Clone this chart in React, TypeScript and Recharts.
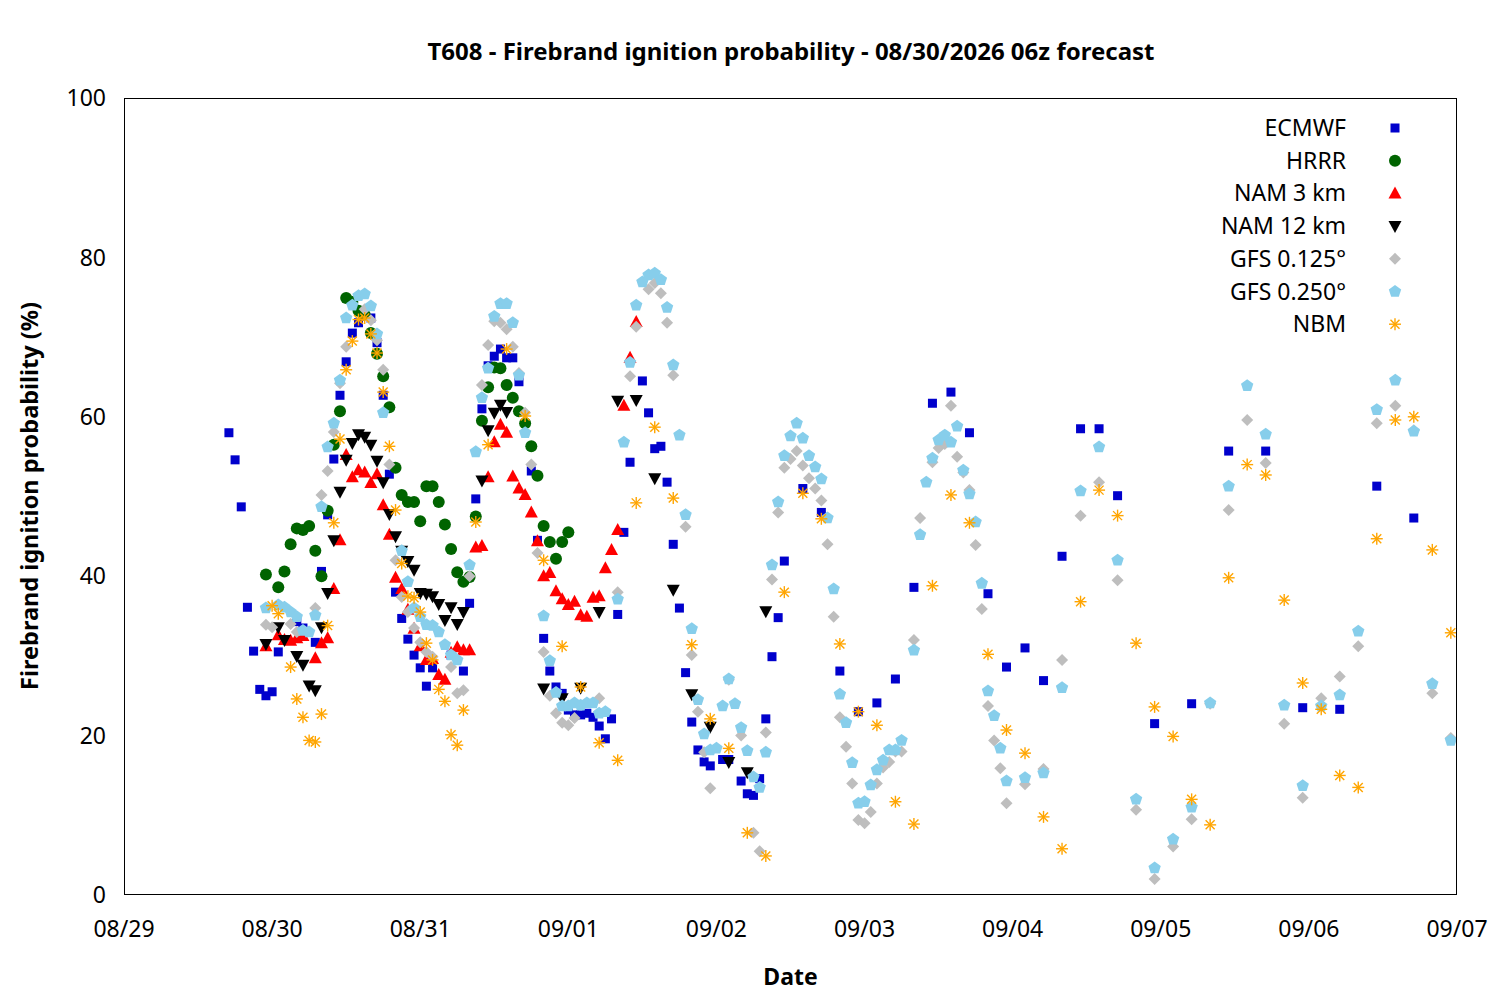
import React from 'react';
import { ScatterChart, Scatter, XAxis, YAxis } from 'recharts';

// hours since 08/29 00z, value in %
const xTickLabels = ['08/29', '08/30', '08/31', '09/01', '09/02', '09/03', '09/04', '09/05', '09/06', '09/07'];
const xTicks = [0, 24, 48, 72, 96, 120, 144, 168, 192, 216];
const yTicks = [0, 20, 40, 60, 80, 100];

const ecmwf = [[17,58],[18,54.6],[19,48.7],[20,36.1],[21,30.6],[22,25.8],[23,25],[24,25.5],[25,30.5],[28,34.3],[29,33.5],[31,31.7],[32,40.6],[33,47.7],[34,54.7],[35,62.7],[36,66.9],[37,70.5],[38,71.8],[40,72.4],[41,69.3],[42,62.7],[43,52.8],[44,38],[45,34.7],[46,32.1],[47,30.1],[48,28.5],[49,26.2],[50,28.5],[53,30.1],[55,28.1],[56,36.6],[57,49.7],[58,61],[59,66.4],[60,67.6],[61,68.5],[62,67.4],[63,67.4],[64,64.4],[66,53.2],[67,44.5],[68,32.2],[69,28.1],[70,26.1],[71,25.3],[72,23.2],[73,22.6],[74,22.6],[75,22.8],[76,22.3],[77,21.2],[78,19.6],[79,22.1],[80,35.2],[81,45.5],[82,54.3],[84,64.5],[85,60.5],[86,56],[87,56.3],[88,51.8],[89,44],[90,36],[91,27.9],[92,21.7],[93,18.2],[94,16.7],[95,16.2],[97,17],[98,17],[100,14.3],[101,12.7],[102,12.5],[103,14.6],[104,22.1],[105,29.9],[106,34.8],[107,41.9],[110,51],[113,48],[116,28.1],[119,23],[122,24.1],[125,27.1],[128,38.6],[131,61.7],[134,63.1],[137,58],[140,37.8],[143,28.6],[146,31],[149,26.9],[152,42.5],[155,58.5],[158,58.5],[161,50.1],[167,21.5],[173,24],[179,55.7],[185,55.7],[191,23.5],[197,23.3],[203,51.3],[209,47.3]];

const hrrr = [[23,40.2],[25,38.6],[26,40.6],[27,44],[28,46],[29,45.8],[30,46.3],[31,43.2],[32,40],[33,48.2],[34,56.5],[35,60.7],[36,74.9],[37,74.4],[38,73.3],[39,72.8],[40,70.5],[41,67.9],[42,65.1],[43,61.2],[44,53.6],[45,50.2],[46,49.3],[47,49.3],[48,46.9],[49,51.3],[50,51.3],[51,49.3],[52,46.5],[53,43.4],[54,40.5],[55,39.3],[56,39.9],[57,47.5],[58,59.5],[59,63.7],[60,66.2],[61,66.1],[62,64],[63,62.4],[64,60.7],[65,59.2],[66,56.3],[67,52.6],[68,46.3],[69,44.3],[70,42.2],[71,44.3],[72,45.5]];

const nam3 = [[23,31.2],[25,32.6],[26,32],[27,31.9],[28,32.2],[29,32.5],[31,29.7],[32,31.6],[33,32.2],[34,38.4],[35,44.5],[36,55.2],[37,52.4],[38,53.3],[39,53],[40,51.7],[41,52.8],[42,48.9],[43,45.2],[44,39.8],[45,38.4],[46,35.8],[47,33.4],[48,31.2],[49,29.5],[50,29.6],[51,27.6],[52,27],[53,30.4],[54,31.1],[55,30.7],[56,30.7],[57,43.6],[58,43.8],[59,52.4],[60,56.8],[61,59],[62,58],[63,52.5],[64,51],[65,50.2],[66,48],[67,44.4],[68,40],[69,40.4],[70,38.1],[71,37.1],[72,36.4],[73,36.8],[74,35.1],[75,34.9],[76,37.3],[77,37.5],[78,41],[79,43.3],[80,45.8],[81,61.4],[82,67.4],[83,71.9]];

const nam12 = [[23,31.5],[25,33.6],[26,32],[28,30],[29,28.9],[30,26.3],[31,25.7],[32,33.6],[33,37.9],[34,44.5],[35,50.6],[36,54.6],[37,56.7],[38,57.8],[39,57.5],[40,56.5],[41,54.5],[42,51.8],[43,47.8],[44,45],[45,43.2],[46,41.9],[47,40.8],[48,37.9],[49,37.8],[50,37.5],[51,36.5],[52,34.5],[53,36.1],[54,34],[55,35.5],[58,52],[59,58.3],[60,60.5],[61,61.5],[62,60.6],[68,25.9],[71,24.7],[74,26],[77,35.5],[80,62],[83,62.1],[86,52.3],[89,38.3],[92,25.2],[95,21.1],[98,16.7],[101,15.4],[104,35.6]];

const gfs125 = [[23,33.9],[24,33.6],[27,34],[28,33],[31,36],[32,50.2],[33,53.2],[34,58.1],[35,64.2],[36,68.8],[39,73.5],[40,72.1],[41,69.6],[42,65.9],[43,54],[44,42],[45,37.4],[46,35.5],[47,33.5],[48,31.7],[49,30.5],[50,29.9],[53,28.6],[54,25.3],[55,25.7],[56,40],[58,64],[59,69],[60,72],[61,71.8],[62,71],[63,68.8],[64,65.5],[65,60.5],[66,54],[67,42.9],[68,30.5],[69,25],[70,22.8],[71,21.6],[72,21.3],[73,22.2],[77,24.7],[80,38],[82,65.1],[83,71.3],[85,76],[86,76.8],[87,75.5],[88,71.8],[89,65.2],[91,46.2],[92,30.1],[93,23],[94,17.9],[95,13.4],[98,27],[100,20],[102,7.8],[103,5.5],[104,20.4],[105,39.6],[106,48],[107,53.6],[108,54.7],[109,55.7],[110,53.9],[111,52.3],[112,51],[113,49.5],[114,44],[115,34.9],[116,22.3],[117,18.6],[118,14],[119,9.4],[120,9],[121,10.4],[122,14],[123,16],[124,16.7],[125,18],[126,18],[128,32],[129,47.3],[131,54.3],[132,56.1],[133,56.6],[134,61.4],[135,55],[136,53],[137,50.8],[138,43.9],[139,35.9],[140,23.7],[141,19.4],[142,15.9],[143,11.5],[146,13.9],[149,15.8],[152,29.5],[155,47.6],[158,51.8],[161,39.5],[164,10.7],[167,2],[170,6.1],[173,9.5],[176,24],[179,48.3],[182,59.6],[185,54.2],[188,21.5],[191,12.2],[194,24.7],[197,27.4],[200,31.2],[203,59.2],[206,61.4],[209,58.3],[212,25.3],[215,19.7]];

const gfs250 = [[23,36],[25,36.4],[26,36.1],[27,35.5],[28,34.9],[29,33.2],[30,33],[31,35.1],[32,48.7],[33,56.2],[34,59.2],[35,64.6],[36,72.4],[37,74],[38,75.2],[39,75.4],[40,73.9],[41,70.4],[42,60.5],[45,43.2],[46,39.3],[47,36],[48,34.9],[49,33.9],[50,33.8],[51,33],[52,31.4],[53,30.1],[54,29.5],[56,41.4],[57,55.6],[58,62.4],[59,66.1],[60,72.6],[61,74.2],[62,74.2],[63,71.8],[64,65.2],[65,58],[68,35],[69,29.4],[70,25.4],[71,23.7],[72,23.7],[73,24.1],[74,23.8],[75,24.1],[76,24.1],[77,22.8],[78,23],[80,37.1],[81,56.8],[82,66.8],[83,74],[84,76.9],[85,77.8],[86,78],[87,77.2],[88,73.7],[89,66.5],[90,57.7],[91,47.7],[92,33.4],[93,24.5],[94,20.2],[95,18.2],[96,18.4],[97,23.7],[98,27.1],[99,24],[100,21],[101,18.1],[102,14.8],[103,13.5],[104,17.9],[105,41.4],[106,49.3],[107,55.1],[108,57.6],[109,59.2],[110,57.3],[111,55.1],[112,53.7],[113,52.2],[114,47.3],[115,38.4],[116,25.2],[117,21.6],[118,16.6],[119,11.5],[120,11.7],[121,13.8],[122,15.7],[123,16.9],[124,18.2],[125,18.2],[126,19.4],[128,30.7],[129,45.2],[130,51.8],[131,54.8],[132,57.1],[133,57.7],[134,56.8],[135,58.8],[136,53.3],[137,50.3],[138,46.8],[139,39.1],[140,25.6],[141,22.5],[142,18.4],[143,14.3],[146,14.7],[149,15.3],[152,26],[155,50.7],[158,56.2],[161,42],[164,12],[167,3.4],[170,7],[173,11],[176,24.1],[179,51.3],[182,63.9],[185,57.8],[188,23.8],[191,13.7],[194,23.7],[197,25.1],[200,33.1],[203,60.9],[206,64.6],[209,58.2],[212,26.5],[215,19.4]];

const nbm = [[24,36.3],[25,35.3],[27,28.6],[28,24.6],[29,22.3],[30,19.4],[31,19.2],[32,22.7],[33,33.8],[34,46.7],[35,57.2],[36,65.9],[37,69.5],[38,72.2],[39,72.4],[40,70.4],[41,68],[42,63.1],[43,56.3],[44,48.3],[45,41.6],[46,37.5],[47,37.3],[48,35.5],[49,31.6],[50,29.5],[51,25.8],[52,24.3],[53,20.1],[54,18.8],[55,23.2],[57,46.8],[59,56.5],[62,68.5],[65,60.1],[68,42],[71,31.2],[74,26.1],[77,19.1],[80,16.9],[83,49.2],[86,58.7],[89,49.8],[92,31.4],[95,22.1],[98,18.4],[101,7.8],[104,4.9],[107,38],[110,50.4],[113,47.2],[116,31.5],[119,23],[122,21.3],[125,11.7],[128,8.9],[131,38.8],[134,50.2],[137,46.7],[140,30.2],[143,20.7],[146,17.8],[149,9.8],[152,5.8],[155,36.8],[158,50.8],[161,47.6],[164,31.6],[167,23.6],[170,19.9],[173,12],[176,8.8],[179,39.8],[182,54],[185,52.7],[188,37],[191,26.6],[194,23.3],[197,15],[200,13.5],[203,44.7],[206,59.6],[209,60],[212,43.3],[215,32.9]];

const toPts = (arr: number[][]) => arr.map(([h, v]) => ({ h, v }));

const FONT = '"Noto Sans", sans-serif';

const Square = (c: string) => (p: any) => <rect x={p.cx - 4.5} y={p.cy - 4.5} width={9} height={9} fill={c} />;
const Circle = (c: string) => (p: any) => <circle cx={p.cx} cy={p.cy} r={6} fill={c} />;
const TriUp = (c: string) => (p: any) => <polygon points={`${p.cx},${p.cy - 7} ${p.cx - 6.5},${p.cy + 5} ${p.cx + 6.5},${p.cy + 5}`} fill={c} />;
const TriDown = (c: string) => (p: any) => <polygon points={`${p.cx},${p.cy + 7} ${p.cx - 6.5},${p.cy - 5} ${p.cx + 6.5},${p.cy - 5}`} fill={c} />;
const Diamond = (c: string) => (p: any) => <polygon points={`${p.cx},${p.cy - 6} ${p.cx + 6},${p.cy} ${p.cx},${p.cy + 6} ${p.cx - 6},${p.cy}`} fill={c} />;
const Pentagon = (c: string) => (p: any) => {
  const pts = [0, 1, 2, 3, 4].map(i => {
    const a = -Math.PI / 2 + (i * 2 * Math.PI) / 5;
    return `${p.cx + 6.5 * Math.cos(a)},${p.cy + 6.5 * Math.sin(a)}`;
  }).join(' ');
  return <polygon points={pts} fill={c} />;
};
const Star = (c: string) => (p: any) => (
  <g stroke={c} strokeWidth={1.4}>
    <line x1={p.cx - 6} y1={p.cy} x2={p.cx + 6} y2={p.cy} />
    <line x1={p.cx} y1={p.cy - 6} x2={p.cx} y2={p.cy + 6} />
    <line x1={p.cx - 4.5} y1={p.cy - 4.5} x2={p.cx + 4.5} y2={p.cy + 4.5} />
    <line x1={p.cx - 4.5} y1={p.cy + 4.5} x2={p.cx + 4.5} y2={p.cy - 4.5} />
  </g>
);

const series = [
  { name: 'ECMWF', data: ecmwf, shape: Square('#0000cc') },
  { name: 'HRRR', data: hrrr, shape: Circle('#006400') },
  { name: 'NAM 3 km', data: nam3, shape: TriUp('#ff0000') },
  { name: 'NAM 12 km', data: nam12, shape: TriDown('#000000') },
  { name: 'GFS 0.125°', data: gfs125, shape: Diamond('#bebebe') },
  { name: 'GFS 0.250°', data: gfs250, shape: Pentagon('#87ceeb') },
  { name: 'NBM', data: nbm, shape: Star('#ffa500') },
];

export default function App() {
  return (
    <div style={{ position: 'absolute', left: 0, top: 0, width: 1500, height: 1000, background: '#fff', fontFamily: FONT }}>
      <ScatterChart width={1500} height={1000} margin={{ top: 98, right: 43, bottom: 60, left: 64 }}>
        <XAxis type="number" dataKey="h" domain={[0, 216]} ticks={xTicks} height={45}
          tickFormatter={(v) => xTickLabels[xTicks.indexOf(v)]} tickLine={false} axisLine={false}
          tick={{ fontSize: 23, fill: '#000', fontFamily: FONT }} tickMargin={20} allowDataOverflow />
        <YAxis type="number" dataKey="v" domain={[0, 100]} ticks={yTicks} width={60}
          tickLine={false} axisLine={false} tick={{ fontSize: 23, fill: '#000', fontFamily: FONT }} tickMargin={12} />
        {series.map(s => (
          <Scatter key={s.name} name={s.name} data={toPts(s.data)} shape={s.shape} isAnimationActive={false} />
        ))}
      </ScatterChart>
      <div style={{ position: 'absolute', left: 124, top: 98, width: 1333, height: 797, border: '1px solid #000', boxSizing: 'border-box', pointerEvents: 'none' }} />
      <div style={{ position: 'absolute', left: 0, width: 1582, top: 34, textAlign: 'center', fontSize: 24, fontWeight: 'bold' }}>
        T608 - Firebrand ignition probability - 08/30/2026 06z forecast
      </div>
      <div style={{ position: 'absolute', left: 124, width: 1333, top: 960, textAlign: 'center', fontSize: 23, fontWeight: 'bold' }}>Date</div>
      <div style={{ position: 'absolute', left: 29, top: 496, transform: 'translate(-50%,-50%) rotate(-90deg)', whiteSpace: 'nowrap', fontSize: 23.5, fontWeight: 'bold' }}>
        Firebrand ignition probability (%)
      </div>
      <svg style={{ position: 'absolute', left: 1180, top: 110 }} width={240} height={240}>
        {series.map((s, i) => (
          <g key={s.name}>
            <text x={166} y={18 + i * 32.7 + 8} textAnchor="end" fontSize={23} fontFamily={FONT}>{s.name}</text>
            {s.shape({ cx: 215, cy: 18 + i * 32.7 })}
          </g>
        ))}
      </svg>
    </div>
  );
}
